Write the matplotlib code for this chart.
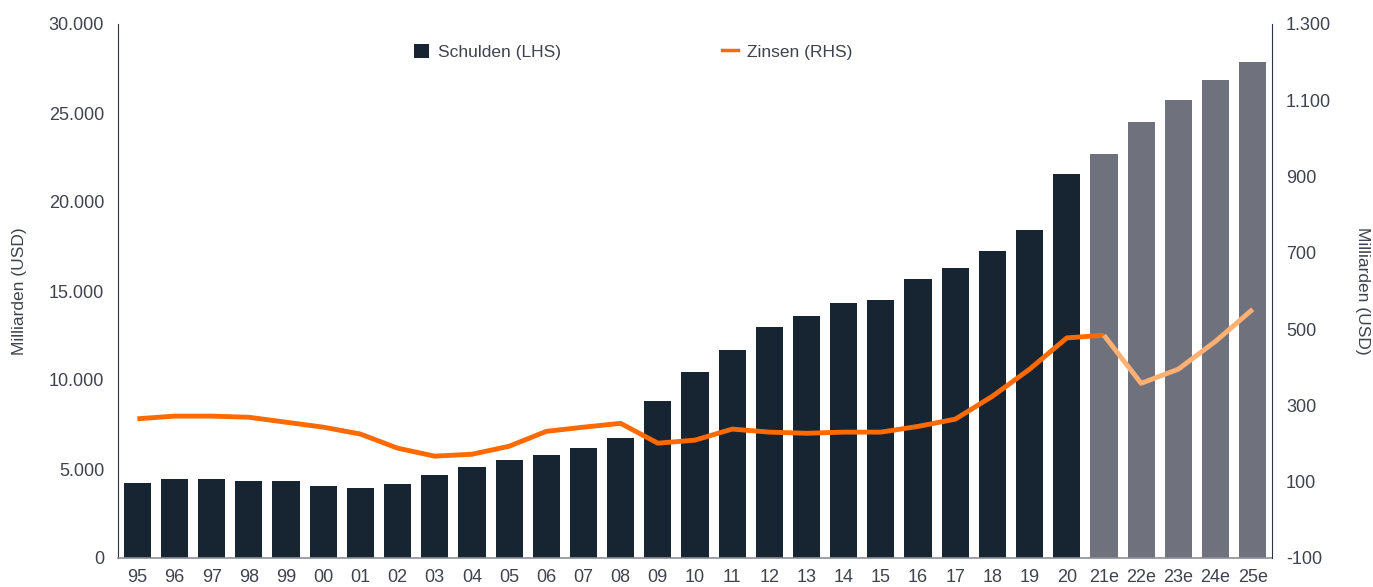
import matplotlib
matplotlib.use("Agg")
import matplotlib.pyplot as plt
from matplotlib.patches import Patch
from matplotlib.lines import Line2D
import numpy as np

years = ["95", "96", "97", "98", "99", "00", "01", "02", "03", "04", "05", "06", "07", "08",
         "09", "10", "11", "12", "13", "14", "15", "16", "17", "18", "19", "20",
         "21e", "22e", "23e", "24e", "25e"]
debt = [4200, 4450, 4450, 4350, 4300, 4050, 3950, 4150, 4650, 5100, 5500, 5800, 6200, 6750,
        8800, 10450, 11700, 13000, 13600, 14350, 14500, 15650, 16300, 17250, 18450, 21600,
        22700, 24500, 25750, 26850, 27850]
interest = [265, 272, 272, 269, 256, 243, 225, 188, 167, 172, 193, 232, 243, 253,
            201, 209, 238, 230, 227, 230, 230, 245, 264, 324, 395, 477,
            484, 358, 395, 468, 552]
n_actual = 26  # 95..20 actual, rest estimates

left_ticks = [0, 5000, 10000, 15000, 20000, 25000, 30000]
right_ticks = [-100, 100, 300, 500, 700, 900, 1100, 1300]

def de_fmt(v):
    s = f"{abs(v):,}".replace(",", ".")
    return ("-" if v < 0 else "") + s

plt.rcParams['font.family'] = ['Liberation Sans', 'DejaVu Sans']
txt = '#40434e'
dark = '#172533'
grey = '#6f717c'
orange = '#ff6a00'
light_orange = '#ffb072'

fig = plt.figure(figsize=(13.73, 5.87), dpi=100)
ax = fig.add_axes([118/1373, 1-558/587, (1272-118)/1373, (558-24)/587])
x = np.arange(len(years))
colors = [dark]*n_actual + [grey]*(len(years)-n_actual)
ax.bar(x, debt, width=0.73, color=colors, zorder=2)
ax.set_xlim(-0.52, len(years)-0.48)
ax.set_ylim(0, 30000)
ax.set_yticks(left_ticks)
ax.set_yticklabels([de_fmt(v) for v in left_ticks])
ax.set_xticks(x)
ax.set_xticklabels(years)
ax.tick_params(axis='both', length=0, labelsize=13, colors=txt)
ax.tick_params(axis='y', pad=10)
ax.tick_params(axis='x', pad=8)
ax.set_ylabel("Milliarden (USD)", fontsize=12.5, color=txt, labelpad=16)
ax.spines['top'].set_visible(False)
ax.spines['left'].set_color('#2b3440')
ax.spines['right'].set_visible(False)
ax.spines['bottom'].set_color('#8a8f99')
ax.spines['bottom'].set_linewidth(1.2)

ax2 = ax.twinx()
ax2.set_ylim(-100, 1300)
ax2.set_yticks(right_ticks)
ax2.set_yticklabels([de_fmt(v) for v in right_ticks])
ax2.tick_params(axis='y', length=0, labelsize=13, colors=txt, pad=10)
ax2.plot(x[:n_actual+1], interest[:n_actual+1], color=orange, lw=3.5, zorder=3,
         solid_capstyle='butt')
ax2.plot(x[n_actual:], interest[n_actual:], color=light_orange, lw=3.5, zorder=3,
         solid_capstyle='butt')
ax2.set_ylabel("Milliarden (USD)", fontsize=12.5, color=txt, rotation=270, labelpad=28)
ax2.spines['top'].set_visible(False)
ax2.spines['left'].set_visible(False)
ax2.spines['bottom'].set_visible(False)
ax2.spines['right'].set_color('#2b3440')

handles = [Patch(facecolor=dark, edgecolor='none', label='Schulden (LHS)'),
           Line2D([0], [0], color=orange, lw=2.5, label='Zinsen (RHS)')]
fig.legend(handles=handles, loc='center left', bbox_to_anchor=(398/1373, 1-52/587),
           ncol=2, frameon=False, fontsize=12.5, handlelength=0.9, handleheight=0.9,
           handletextpad=0.5, columnspacing=9.3, labelcolor=txt)

fig.savefig("out.png", dpi=100)
